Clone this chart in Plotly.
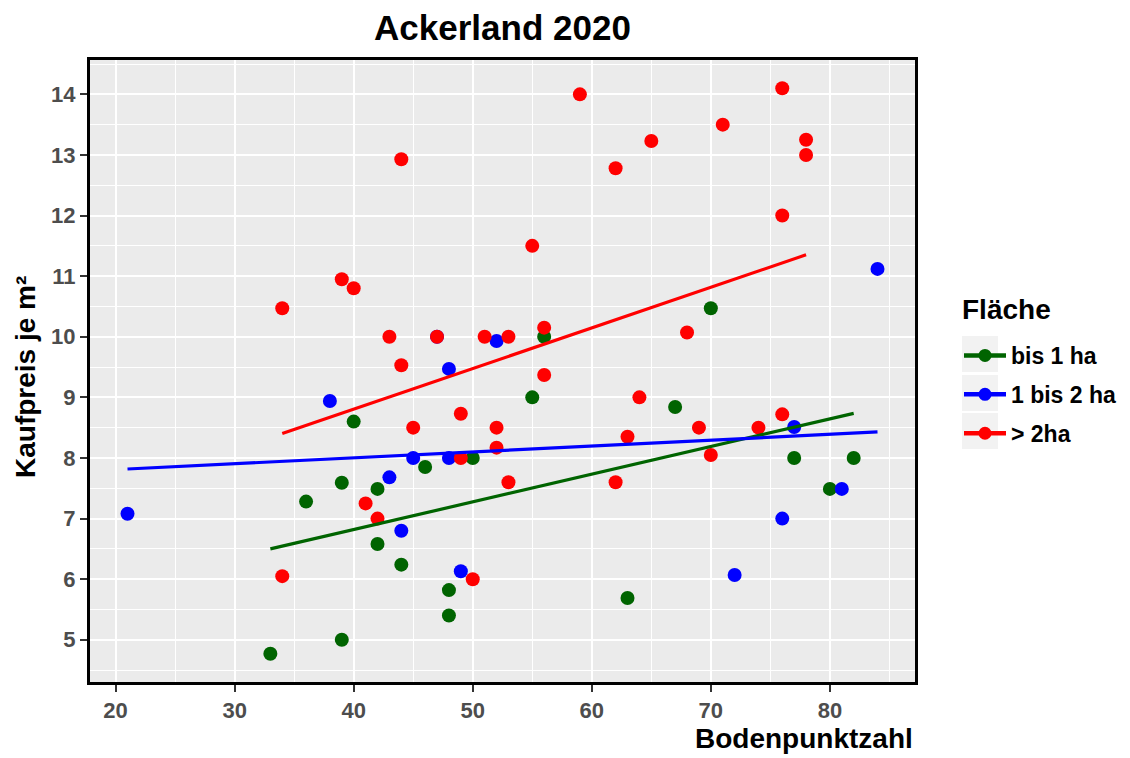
import numpy as np
import plotly.graph_objects as go

# Bodenpunktzahl / Kaufpreis je m2, nach Flaechengroesse
bis1_x = [33, 36, 39, 39, 40, 42, 42, 44, 46, 48, 48, 50, 55, 56, 63, 67, 70, 77, 80, 82]
bis1_y = [4.77, 7.28, 7.59, 5.0, 8.6, 7.49, 6.58, 6.24, 7.85, 5.82, 5.4, 8.0, 9.0, 10.0,
          5.69, 8.84, 10.47, 8.0, 7.49, 8.0]

bis2_x = [21, 38, 43, 44, 45, 47, 48, 48, 49, 52, 72, 76, 77, 81, 84]
bis2_y = [7.08, 8.94, 7.68, 6.8, 8.0, 10.0, 9.47, 8.0, 6.13, 9.93, 6.07, 7.0, 8.51, 7.49, 11.12]

gr2_x = [34, 34, 39, 40, 41, 42, 43, 44, 44, 45, 47, 49, 49, 50, 51, 52, 52, 53, 53,
         55, 56, 56, 59, 62, 62, 63, 64, 65, 68, 69, 70, 71, 74, 76, 76, 76, 78, 78]
gr2_y = [10.47, 6.05, 10.95, 10.8, 7.25, 7.0, 10.0, 12.93, 9.53, 8.5, 10.0, 8.73, 8.0,
         6.0, 10.0, 8.5, 8.17, 10.0, 7.6, 11.5, 10.15, 9.37, 14.0, 12.78, 7.6, 8.35, 9.0,
         13.23, 10.07, 8.5, 8.05, 13.5, 8.5, 14.1, 12.0, 8.72, 13.25, 13.0]

groups = [
    ("bis 1 ha", bis1_x, bis1_y, "#006400"),
    ("1 bis 2 ha", bis2_x, bis2_y, "#0000FF"),
    ("> 2ha", gr2_x, gr2_y, "#FF0000"),
]

FONT = "Liberation Sans, Arial, sans-serif"
W, H = 1130, 758
L, R, T, B = 90, 215, 60, 76


def px_x(p):
    return (p - L) / (W - L - R)


def px_y(p):
    return (H - B - p) / (H - T - B)


fig = go.Figure()

for name, xs, ys, col in groups:
    fig.add_trace(go.Scatter(x=xs, y=ys, mode="markers",
                             marker=dict(color=col, size=14),
                             showlegend=False, hoverinfo="x+y"))

# lineare Regression je Gruppe (wie geom_smooth(method = "lm"))
for name, xs, ys, col in groups:
    slope, icpt = np.polyfit(xs, ys, 1)
    lx = [min(xs), max(xs)]
    fig.add_trace(go.Scatter(x=lx, y=[icpt + slope * v for v in lx], mode="lines",
                             line=dict(color=col, width=3.2), showlegend=False,
                             hoverinfo="skip"))

for name, xs, ys, col in groups:
    fig.add_trace(go.Scatter(x=[None], y=[None], mode="lines+markers", name=name,
                             legendgroup=name,
                             marker=dict(color=col, size=13),
                             line=dict(color=col, width=4.5)))

all_x = bis1_x + bis2_x + gr2_x
all_y = bis1_y + bis2_y + gr2_y
xpad = (max(all_x) - min(all_x)) * 0.05
ypad = (max(all_y) - min(all_y)) * 0.05

axis_common = dict(
    showline=True, linecolor="black", linewidth=3, mirror=True,
    ticks="outside", ticklen=7, tickwidth=2, tickcolor="#333333",
    showgrid=True, gridcolor="white", gridwidth=2,
    zeroline=False,
    tickfont=dict(family=FONT, size=22, color="#4D4D4D", weight="bold"),
)

fig.update_xaxes(range=[min(all_x) - xpad, max(all_x) + xpad],
                 tick0=20, dtick=10,
                 minor=dict(dtick=5, tick0=15, showgrid=True, gridcolor="white", gridwidth=1),
                 **axis_common)
fig.update_yaxes(range=[min(all_y) - ypad, max(all_y) + ypad],
                 tick0=5, dtick=1,
                 minor=dict(dtick=0.5, tick0=4.5, showgrid=True, gridcolor="white", gridwidth=1),
                 **axis_common)

# graue Legendenschluessel wie bei ggplot
key_boxes = []
for top in (336, 375, 413):
    key_boxes.append(dict(type="rect", xref="paper", yref="paper",
                          x0=px_x(962), x1=px_x(998), y0=px_y(top + 36), y1=px_y(top),
                          fillcolor="#F2F2F2", line=dict(width=0), layer="below"))

fig.update_layout(
    width=W, height=H,
    margin=dict(l=L, r=R, t=T, b=B, autoexpand=False),
    paper_bgcolor="white", plot_bgcolor="#EBEBEB",
    font=dict(family=FONT, color="black"),
    title=dict(text="<b>Ackerland 2020</b>", x=0.5, xref="paper", xanchor="center",
               y=1 - 28 / H, yanchor="middle", font=dict(size=35, color="black")),
    legend=dict(x=px_x(959), y=px_y(334), xanchor="left", yanchor="top",
                font=dict(size=23, weight="bold"), itemwidth=42,
                tracegroupgap=6, bgcolor="rgba(0,0,0,0)"),
    shapes=key_boxes,
    annotations=[
        dict(text="<b>Fläche</b>", xref="paper", yref="paper", x=px_x(960), y=px_y(309),
             xanchor="left", yanchor="middle", showarrow=False,
             font=dict(size=28, color="black")),
        dict(text="<b>Bodenpunktzahl</b>", xref="paper", yref="paper", x=1.0, y=px_y(738),
             xanchor="right", yanchor="middle", showarrow=False,
             font=dict(size=28, color="black")),
        dict(text="<b>Kaufpreis je m²</b>", xref="paper", yref="paper", x=px_x(25), y=px_y(377),
             xanchor="center", yanchor="middle", textangle=-90, showarrow=False,
             font=dict(size=28, color="black")),
    ],
)

fig.write_html("out.html", config={"displayModeBar": False},
               post_script="document.body.style.margin='0';")
